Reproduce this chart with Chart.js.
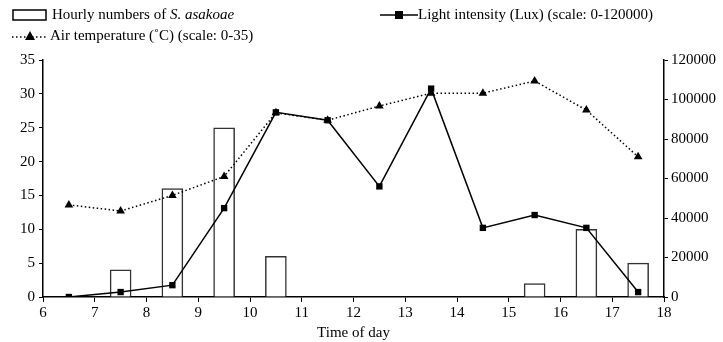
<!DOCTYPE html>
<html>
<head>
<meta charset="utf-8">
<script src="https://cdn.jsdelivr.net/npm/chart.js@4/dist/chart.umd.min.js"></script>
<style>
  body { margin: 0; background: #fff; }
  #wrap { position: relative; width: 723px; height: 342px; font-family: "Liberation Serif", serif; font-size: 15px; color: #000; }
  .leg { position: absolute; display: flex; align-items: center; white-space: nowrap; }
  .leg svg { margin-right: 4px; }
</style>
</head>
<body>
<div id="wrap">
  <canvas id="chart" width="723" height="342"></canvas>
  <div class="leg" style="left:12px; top:6px;">
    <svg width="36" height="14"><rect x="1" y="2" width="33" height="10" fill="#fff" stroke="#000" stroke-width="1.5"/></svg>
    <span>Hourly numbers of <i>S. asakoae</i></span>
  </div>
  <div class="leg" style="left:380px; top:6px;">
    <svg width="38" height="14" style="margin-right:0"><line x1="0" y1="7" x2="38" y2="7" stroke="#000" stroke-width="1.5"/><rect x="15" y="3" width="8" height="8" fill="#000"/></svg>
    <span>Light intensity (Lux) (scale: 0-120000)</span>
  </div>
  <div class="leg" style="left:12px; top:27px;">
    <svg width="36" height="14" style="margin-right:2px"><line x1="0" y1="8" x2="36" y2="8" stroke="#000" stroke-width="1.5" stroke-dasharray="1.5,2.5"/><polygon points="18,2 23,11 13,11" fill="#000"/></svg>
    <span>Air temperature (˚C) (scale: 0-35)</span>
  </div>
</div>
<script>
// hours at which things were recorded
const hours = [6.5, 7.5, 8.5, 9.5, 10.5, 11.5, 12.5, 13.5, 14.5, 15.5, 16.5, 17.5];
const beetleHours = [7.5, 8.5, 9.5, 10.5, 15.5, 16.5, 17.5];
const beetleCounts = [4, 16, 25, 6, 2, 10, 5];
const airTemp = [13.6, 12.7, 15, 17.8, 27.2, 26.1, 28.2, 30.1, 30.1, 31.9, 27.6, 20.7];
const lightLux = [0, 2500, 6000, 45000, 93500, 89500, 56000, 105500, 35000, 41500, 35000, 2500];
const xTicks = [6, 7, 8, 9, 10, 11, 12, 13, 14, 15, 16, 17, 18];

const toPoints = function (xs, ys) {
  return xs.map((x, i) => ({ x: x, y: ys[i] }));
};

const font = { family: 'Liberation Serif', size: 15 };

const ctx = document.getElementById('chart');
new Chart(ctx, {
  type: 'bar',
  data: {
    datasets: [
      {
        type: 'line',
        label: 'Light intensity (Lux) (scale: 0-120000)',
        data: toPoints(hours, lightLux),
        yAxisID: 'y1',
        borderColor: '#000',
        backgroundColor: '#000',
        borderWidth: 1.5,
        pointStyle: 'rect',
        pointRadius: 4.5,
        pointBorderWidth: 0,
        order: 1
      },
      {
        type: 'line',
        label: 'Air temperature (˚C) (scale: 0-35)',
        data: toPoints(hours, airTemp),
        yAxisID: 'y',
        borderColor: '#000',
        backgroundColor: '#000',
        borderWidth: 1.5,
        borderDash: [1.5, 2.5],
        pointStyle: 'triangle',
        pointRadius: 5,
        pointBorderWidth: 0,
        order: 2
      },
      {
        type: 'bar',
        label: 'Hourly numbers of S. asakoae',
        data: toPoints(beetleHours, beetleCounts),
        yAxisID: 'y',
        backgroundColor: '#fff',
        borderColor: '#333',
        borderWidth: 1.5,
        barThickness: 21,
        order: 3
      }
    ]
  },
  options: {
    responsive: false,
    animation: false,
    layout: { padding: { top: 60, left: 16, right: 4, bottom: 0 } },
    plugins: {
      legend: { display: false },
      tooltip: { enabled: false }
    },
    scales: {
      x: {
        type: 'linear',
        min: 6,
        max: 18,
        offset: false,
        afterBuildTicks: function (axis) { axis.ticks = xTicks.map(v => ({ value: v })); },
        ticks: { color: '#000', font: font, padding: 2 },
        grid: { drawOnChartArea: false, offset: false, color: '#000', tickLength: 5 },
        border: { color: '#000', width: 1.5 },
        title: { display: true, text: 'Time of day', color: '#000', font: font, padding: 0 }
      },
      y: {
        position: 'left',
        min: 0,
        max: 35,
        ticks: { stepSize: 5, color: '#000', font: font, padding: 4 },
        grid: { drawOnChartArea: false, color: '#000', tickLength: 4 },
        border: { color: '#000', width: 1.5 }
      },
      y1: {
        position: 'right',
        min: 0,
        max: 120000,
        ticks: { stepSize: 20000, color: '#000', font: font, padding: 3, callback: v => String(v) },
        grid: { drawOnChartArea: false, color: '#000', tickLength: 4 },
        border: { color: '#000', width: 1.5 }
      }
    }
  }
});
</script>
</body>
</html>
